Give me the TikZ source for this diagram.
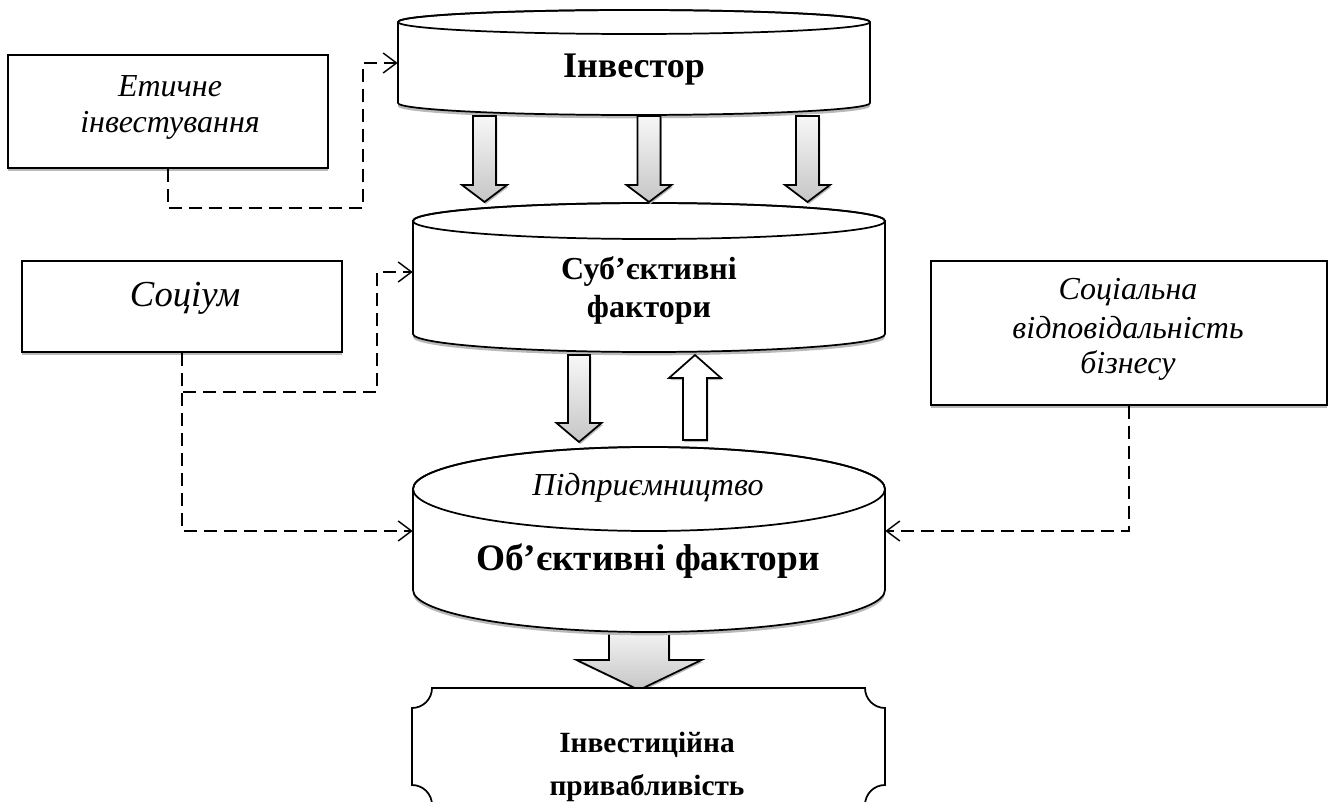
\documentclass[tikz,border=0pt]{standalone}
\usepackage{fontspec}
\setmainfont{Liberation Serif}
\usetikzlibrary{arrows.meta,shadows}
\tikzset{
  shad/.style={drop shadow={shadow xshift=0pt,shadow yshift=-2.5pt,fill=gray!55,opacity=1}},
  box/.style={draw,line width=1.4pt,fill=white,rectangle,inner sep=0pt,shad},
  cylbody/.style={draw,line width=1.3pt,fill=white,shad},
  anch/.style={inner sep=0pt,minimum width=354pt,minimum height=1pt},
  dconn/.style={line width=1.1pt,dash pattern=on 9.5pt off 5.5pt,-{Straight Barb[length=10pt,width=15pt,line width=1.1pt]}},
  blk/.style={draw,line width=1.3pt,top color=gray!6,bottom color=gray!45,drop shadow={shadow xshift=1pt,shadow yshift=-1.5pt,fill=gray!55,opacity=1}},
  blkw/.style={draw,line width=1.3pt,fill=white,drop shadow={shadow xshift=1pt,shadow yshift=-1.5pt,fill=gray!55,opacity=1}},
  itx/.style={anchor=base,inner sep=0pt,font=\fontsize{24}{28}\selectfont\itshape},
  bfx/.style={anchor=base,inner sep=0pt,font=\fontsize{24}{28}\selectfont\bfseries},
}
\newcommand\CylDraw[5]{% cx, rx, ytop, ybot, ry
  \path[cylbody] (#1-#2,#3) -- (#1-#2,#4) arc[start angle=180,end angle=0,x radius=#2,y radius=#5]
    -- (#1+#2,#3) arc[start angle=0,end angle=-180,x radius=#2,y radius=#5] -- cycle;
  \draw[line width=1.3pt] (#1,#3) ellipse[x radius=#2,y radius=#5];}
\newcommand\BlkArrow[7]{% x, ystart, yhead, ytip, half shaft, half head, style
  \path[#7] (#1-#5,#2) -- (#1+#5,#2) -- (#1+#5,#3) -- (#1+#6,#3) -- (#1,#4) -- (#1-#6,#3) -- (#1-#5,#3) -- cycle;}
\begin{document}
\begin{tikzpicture}[x=0.75pt,y=-0.75pt]
\useasboundingbox (0,0) rectangle (1331,802);

% cylinders
\CylDraw{634}{236}{22}{103}{12}
\node[anch] (inv) at (634,63) {};
\node[anch,font=\fontsize{27}{32}\selectfont\bfseries,anchor=base] (invt) at (634,78) {Інвестор};

\CylDraw{649}{236}{221}{334}{18}
\node[anch] (subj) at (649,272) {};
\node[bfx] (subjt1) at (649,280) {Суб’єктивні};
\node[bfx] (subjt2) at (649,317) {фактори};

% big arrow (under cylinder 3)
\BlkArrow{639}{626}{660}{690}{30}{62.5}{blk}

\CylDraw{649}{236}{489}{590}{42}
\node[anch] (obj) at (649,531) {};
\node[itx] (objt1) at (648,495) {Підприємництво};
\node[bfx,font=\fontsize{28}{32}\selectfont\bfseries] (objt2) at (648,570) {Об’єктивні фактори};

% block arrows
\BlkArrow{484.5}{116}{185}{202}{11.5}{22.5}{blk}
\BlkArrow{649}{116}{185}{202}{11.5}{22.5}{blk}
\BlkArrow{807.5}{116}{185}{202}{11.5}{22.5}{blk}
\BlkArrow{579}{355}{423}{442}{11}{22.5}{blk}
\BlkArrow{695}{440}{378}{355}{12}{26}{blkw}

% result plaque
\path[draw,line width=1.3pt,fill=white] (432,688) -- (865,688) arc[start angle=180,end angle=90,radius=20]
  -- (885,785) arc[start angle=-90,end angle=-180,radius=20]
  -- (432,805) arc[start angle=0,end angle=-90,radius=20]
  -- (412,708) arc[start angle=90,end angle=0,radius=20] -- cycle;
\node[anch] (attr) at (648,688) {};
\node[bfx,font=\fontsize{22}{26}\selectfont\bfseries] (attrt1) at (647,752) {Інвестиційна};
\node[bfx,font=\fontsize{22}{26}\selectfont\bfseries] (attrt2) at (647,795) {привабливість};

% side boxes
\node[box,minimum width=240pt,minimum height=84.75pt] (eth) at (168,111.5) {};
\node[itx] (etht1) at (170,97) {Етичне};
\node[itx] (etht2) at (170,133) {інвестування};

\node[box,minimum width=240pt,minimum height=68.25pt] (soc) at (182,306.5) {};
\node[itx,font=\fontsize{27.5}{32}\selectfont\itshape] (soct) at (185,306) {Соціум};

\node[box,minimum width=297pt,minimum height=108pt] (csr) at (1129,333) {};
\node[itx] (csrt1) at (1128,300) {Соціальна};
\node[itx] (csrt2) at (1128,338) {відповідальність};
\node[itx] (csrt3) at (1128,373) {бізнесу};

% dashed connectors
\coordinate (e1) at (363,208);
\coordinate (s1) at (377,392);
\draw[dconn] (eth.south) |- (e1) |- (inv.west);
\draw[dconn] (soc.south) |- (s1) |- (subj.west);
\draw[dconn] (soc.south) |- (obj.west);
\draw[dconn] (csr.south) |- (obj.east);
\end{tikzpicture}
\end{document}
